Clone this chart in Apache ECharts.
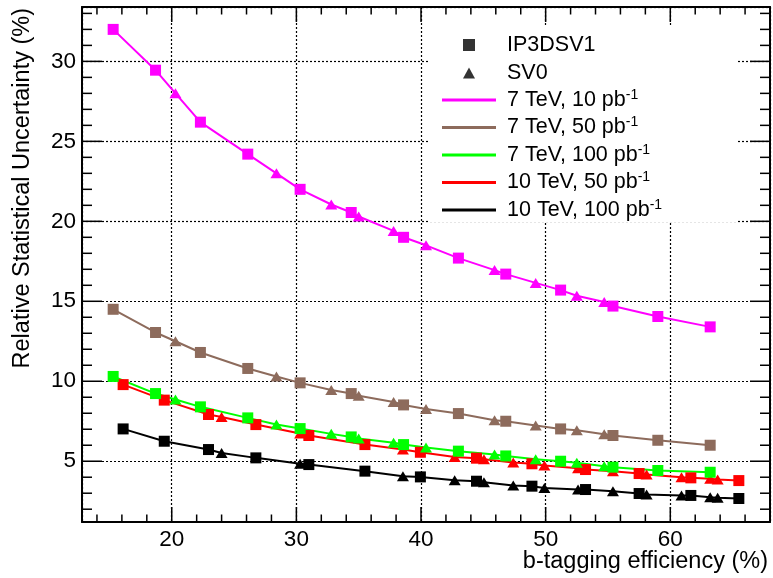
<!DOCTYPE html>
<html>
<head>
<meta charset="utf-8">
<script src="https://cdn.jsdelivr.net/npm/echarts@6/dist/echarts.min.js"></script>
<style>
  html, body { margin: 0; padding: 0; background: #fff; }
  #chart { width: 773px; height: 578px; }
</style>
</head>
<body>
<div id="chart"></div>
<script>
// b-tagging efficiency (%) of each working point
const effIP7 = [15.3, 18.7, 22.3, 26.1, 30.3, 34.4, 38.6, 43.0, 46.8, 51.2, 55.4, 59.0, 63.2];
const effSV7 = [20.3, 28.4, 32.8, 35.0, 37.8, 40.4, 45.9, 49.2, 52.5, 54.7];
const effIP10 = [16.1, 19.4, 22.95, 26.75, 31.0, 35.5, 39.95, 44.45, 48.9, 53.2, 57.5, 61.65, 65.5];
const effSV10 = [24.0, 30.3, 38.55, 42.7, 45.05, 47.4, 49.9, 52.6, 55.4, 58.1, 60.9, 63.2, 63.8];

// relative statistical uncertainty (%)
const ip7tev10 = [32.0, 29.45, 26.2, 24.2, 22.0, 20.55, 19.0, 17.7, 16.7, 15.7, 14.7, 14.05, 13.4];
const sv7tev10 = [28.0, 23.0, 21.05, 20.3, 19.4, 18.5, 16.95, 16.15, 15.35, 14.95];
const ip7tev50 = [14.5, 13.05, 11.8, 10.8, 9.9, 9.23, 8.52, 7.98, 7.5, 7.02, 6.61, 6.31, 6.0];
const sv7tev50 = [12.5, 10.3, 9.45, 9.1, 8.7, 8.27, 7.56, 7.23, 6.94, 6.69];
const ip7tev100 = [10.3, 9.23, 8.4, 7.71, 7.04, 6.52, 6.04, 5.63, 5.33, 5.0, 4.63, 4.42, 4.31];
const sv7tev100 = [8.86, 7.29, 6.71, 6.42, 6.15, 5.86, 5.42, 5.13, 4.9, 4.69];
const ip10tev50 = [9.79, 8.82, 7.92, 7.29, 6.61, 6.04, 5.56, 5.19, 4.84, 4.48, 4.23, 3.96, 3.79];
const sv10tev50 = [7.77, 6.73, 5.73, 5.27, 5.12, 4.92, 4.73, 4.56, 4.38, 4.17, 4.0, 3.9, 3.86];
const ip10tev100 = [7.02, 6.25, 5.73, 5.21, 4.79, 4.38, 4.02, 3.75, 3.44, 3.23, 2.98, 2.86, 2.67];
const sv10tev100 = [5.52, 4.84, 4.06, 3.81, 3.69, 3.48, 3.33, 3.23, 3.13, 2.92, 2.86, 2.75, 2.71];

const taggers = ['IP3DSV1', 'SV0'];
const configNames = ['7 TeV, 10 pb⁻¹', '7 TeV, 50 pb⁻¹', '7 TeV, 100 pb⁻¹', '10 TeV, 50 pb⁻¹', '10 TeV, 100 pb⁻¹'];

const FONT = 'Liberation Sans, Arial, Helvetica, sans-serif';
const X_MIN = 12.8, X_MAX = 68, Y_MIN = 1.2, Y_MAX = 33.4;

// merge both taggers into one line, squares for IP3DSV1 and triangles for SV0
function buildPoints(effIP, ipVals, effSV, svVals) {
  const pts = [];
  effIP.forEach((x, i) => pts.push({ value: [x, ipVals[i]], symbol: 'rect', symbolSize: 11 }));
  effSV.forEach((x, i) => pts.push({ value: [x, svVals[i]], symbol: 'triangle', symbolSize: [12, 10] }));
  pts.sort((a, b) => a.value[0] - b.value[0]);
  return pts;
}

const lines = [
  { name: configNames[1], color: '#8d6b5c', data: buildPoints(effIP7, ip7tev50, effSV7, sv7tev50) },
  { name: configNames[0], color: '#ff00ff', data: buildPoints(effIP7, ip7tev10, effSV7, sv7tev10) },
  { name: configNames[3], color: '#ff0000', data: buildPoints(effIP10, ip10tev50, effSV10, sv10tev50) },
  { name: configNames[2], color: '#00ff00', data: buildPoints(effIP7, ip7tev100, effSV7, sv7tev100) },
  { name: configNames[4], color: '#000000', data: buildPoints(effIP10, ip10tev100, effSV10, sv10tev100) }
];

const series = lines.map(l => ({
  name: l.name,
  type: 'line',
  color: l.color,
  data: l.data,
  showAllSymbol: true,
  lineStyle: { width: 2, color: l.color },
  itemStyle: { color: l.color },
  z: 3
}));
series.push({ name: taggers[0], type: 'scatter', data: [], symbol: 'rect', color: '#000' });
series.push({ name: taggers[1], type: 'scatter', data: [], symbol: 'triangle', color: '#000' });

const rich = {
  m: { fontSize: 21.5, fontFamily: FONT, color: '#000', lineHeight: 24 },
  s: { fontSize: 14, fontFamily: FONT, color: '#000', lineHeight: 14, verticalAlign: 'top' }
};
function legendFmt(n) {
  return n.endsWith('⁻¹') ? '{m|' + n.slice(0, -2) + '}{s|-1}' : '{m|' + n + '}';
}

// one legend block per row, like the ROOT TLegend
const rowCenters = [46, 74, 100, 127.5, 155, 182.5, 210];
const legendRows = taggers.concat(configNames);
const legends = legendRows.map((name, i) => {
  const isMarker = i < 2;
  return {
    data: [{ name: name, icon: isMarker ? (i === 0 ? 'rect' : 'triangle') : 'rect' }],
    left: isMarker ? 463 : 442,
    top: rowCenters[i] - 12,
    padding: 0,
    selectedMode: false,
    itemWidth: isMarker ? 12 : 54,
    itemHeight: isMarker ? (i === 0 ? 12 : 11) : 3,
    itemStyle: { borderWidth: 0 },
    formatter: legendFmt,
    textStyle: { rich: rich, padding: [0, 0, 0, isMarker ? 27 : 6] }
  };
});

function axis(dim, pos, main) {
  const isX = dim === 'x';
  return {
    type: 'value', position: pos,
    min: isX ? X_MIN : Y_MIN, max: isX ? X_MAX : Y_MAX, splitNumber: isX ? 5 : 6,
    axisLine: { show: true, onZero: false, lineStyle: { color: '#000', width: 2 } },
    axisTick: { show: false },
    axisLabel: main ? { margin: 6, showMinLabel: false, showMaxLabel: false, fontSize: 22.5, fontFamily: FONT, color: '#000' } : { show: false },
    splitLine: main ? { show: true, lineStyle: { color: '#000', width: 1.2, type: [2, 2] } } : { show: false }
  };
}

const baseGraphic = [
  { type: 'rect', z: 1, shape: { x: 430, y: 25, width: 306, height: 197 }, style: { fill: '#fff' } },
  { type: 'text', x: 23, y: 8, rotation: Math.PI / 2, z: 5,
    style: { text: 'Relative Statistical Uncertainty (%)', font: '23.5px ' + FONT, fill: '#000', align: 'right', verticalAlign: 'middle' } },
  { type: 'text', x: 768, y: 562, z: 5,
    style: { text: 'b-tagging efficiency (%)', font: '23.5px ' + FONT, fill: '#000', align: 'right', verticalAlign: 'middle' } }
];

const chart = echarts.init(document.getElementById('chart'), null, { renderer: 'canvas' });
chart.setOption({
  animation: false,
  backgroundColor: '#fff',
  grid: { left: 82, right: 3, top: 7, bottom: 56, containLabel: false },
  xAxis: [axis('x', 'bottom', true), axis('x', 'top', false)],
  yAxis: [axis('y', 'left', true), axis('y', 'right', false)],
  legend: legends,
  graphic: baseGraphic,
  series: series
});

// inward ROOT-style ticks on all four sides, placed through the axis scales
const xPix = v => chart.convertToPixel({ xAxisIndex: 0 }, v);
const yPix = v => chart.convertToPixel({ yAxisIndex: 0 }, v);
const fL = xPix(X_MIN), fR = xPix(X_MAX), fT = yPix(Y_MAX), fB = yPix(Y_MIN);
const tickMarks = [];
function tick(x1, y1, x2, y2) {
  tickMarks.push({ type: 'line', z: 4, shape: { x1: x1, y1: y1, x2: x2, y2: y2 }, style: { stroke: '#000', lineWidth: 1.5 } });
}
for (let v = 14; v < X_MAX; v += 2) {
  const len = v % 10 === 0 ? 15 : 7.5;
  const px = xPix(v);
  tick(px, fB, px, fB - len);
  tick(px, fT, px, fT + len);
}
for (let v = 2; v < Y_MAX; v += 1) {
  const len = v % 5 === 0 ? 20 : 10;
  const py = yPix(v);
  tick(fL, py, fL + len, py);
  tick(fR, py, fR - len, py);
}
chart.setOption({ graphic: baseGraphic.concat(tickMarks) });
</script>
</body>
</html>
